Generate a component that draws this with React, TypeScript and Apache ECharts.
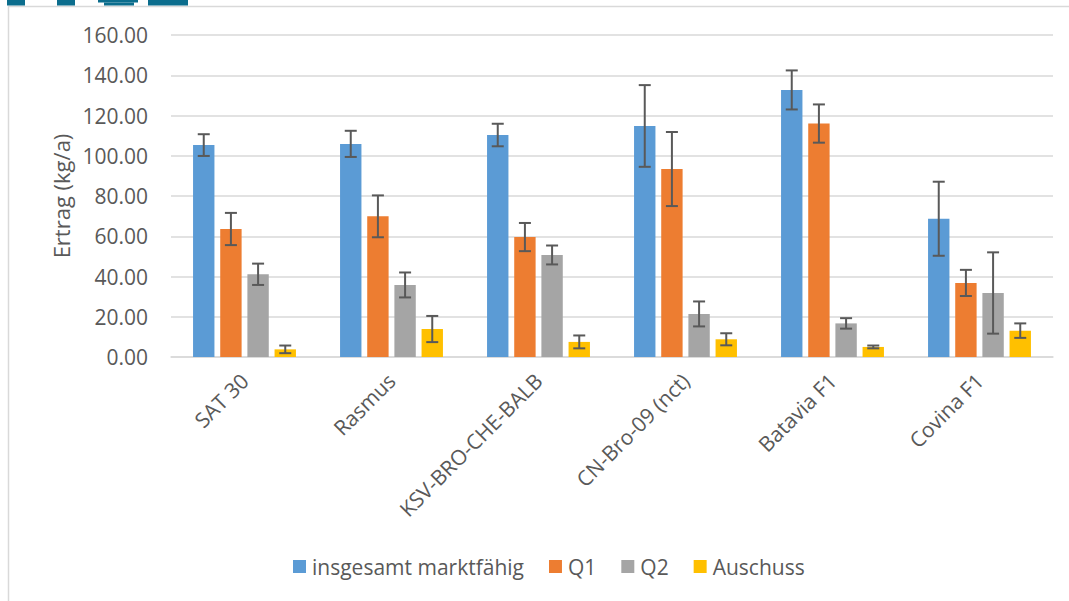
import React, { useEffect, useRef } from "react";
import * as echarts from "echarts";

const categories = ["SAT 30", "Rasmus", "KSV-BRO-CHE-BALB", "CN-Bro-09 (nct)", "Batavia F1", "Covina F1"];
const seriesNames = ["insgesamt marktfähig", "Q1", "Q2", "Auschuss"];
const colors = ["#5B9BD5", "#ED7D31", "#A5A5A5", "#FFC000"];

const totalValues = [105.3, 105.9, 110.3, 114.8, 132.7, 68.7];
const totalErr = [5.4, 6.5, 5.6, 20.3, 9.7, 18.4];
const q1Values = [63.6, 69.9, 59.6, 93.4, 116.0, 36.8];
const q1Err = [8.0, 10.4, 7.0, 18.4, 9.5, 6.5];
const q2Values = [41.1, 35.8, 50.7, 21.4, 16.7, 31.8];
const q2Err = [5.3, 6.2, 4.7, 6.2, 2.6, 20.2];
const auschussValues = [3.8, 13.9, 7.5, 8.8, 5.0, 13.1];
const auschussErr = [1.9, 6.5, 3.2, 3.0, 0.7, 3.6];

const yTicks = { min: 0, max: 160, interval: 20 };

const FONT = "'Open Sans', sans-serif";
const TEXT = "#595959";
const GRID = "#D9D9D9";

const BAR_CAT_GAP = 0.3;
const BAR_GAP = 0.27;

export default function App() {
  const ref = useRef<HTMLDivElement>(null);

  useEffect(() => {
    if (!ref.current) return;
    const chart = echarts.init(ref.current, undefined, { renderer: "svg" });

    const valueSets = [totalValues, q1Values, q2Values, auschussValues];
    const errSets = [totalErr, q1Err, q2Err, auschussErr];

    const barSeries = seriesNames.map((name, si) => ({
      type: "bar",
      name,
      data: valueSets[si],
      itemStyle: { color: colors[si] },
      barCategoryGap: `${BAR_CAT_GAP * 100}%`,
      barGap: `${BAR_GAP * 100}%`,
      silent: true,
    }));

    const errSeries = seriesNames.map((name, si) => ({
      type: "custom",
      name: name + "-err",
      z: 10,
      silent: true,
      data: categories.map((_, i) => [i, valueSets[si][i] - errSets[si][i], valueSets[si][i] + errSets[si][i]]),
      renderItem: (params: any, api: any) => {
        const idx = api.value(0);
        const lo = api.coord([idx, api.value(1)]);
        const hi = api.coord([idx, api.value(2)]);
        const bw = api.size([1, 0])[0];
        const n = seriesNames.length;
        const w = (bw * (1 - BAR_CAT_GAP)) / (n + (n - 1) * BAR_GAP);
        const gap = w * BAR_GAP;
        const total = n * w + (n - 1) * gap;
        const cx = lo[0] - total / 2 + w / 2 + si * (w + gap);
        const cap = 6;
        const style = { stroke: "#595959", lineWidth: 2 };
        return {
          type: "group",
          children: [
            { type: "line", shape: { x1: cx, y1: hi[1], x2: cx, y2: lo[1] }, style },
            { type: "line", shape: { x1: cx - cap, y1: hi[1], x2: cx + cap, y2: hi[1] }, style },
            { type: "line", shape: { x1: cx - cap, y1: lo[1], x2: cx + cap, y2: lo[1] }, style },
          ],
        };
      },
    }));

    chart.setOption({
      animation: false,
      backgroundColor: "#FFFFFF",
      textStyle: { fontFamily: FONT },
      grid: { left: 171, right: 16, top: 35, bottom: 244, containLabel: false },
      legend: {
        data: seriesNames,
        top: 551,
        left: 288,
        itemWidth: 13,
        itemHeight: 13,
        itemGap: 25,
        icon: "rect",
        textStyle: { fontFamily: FONT, fontSize: 21, color: TEXT, padding: [0, 0, 0, 1] },
      },
      xAxis: {
        type: "category",
        data: categories,
        axisLine: { lineStyle: { color: GRID, width: 1.5 } },
        axisTick: { show: false },
        axisLabel: {
          rotate: 45,
          fontFamily: FONT,
          fontSize: 21,
          color: TEXT,
          margin: 20,
          interval: 0,
        },
      },
      yAxis: {
        type: "value",
        min: yTicks.min,
        max: yTicks.max,
        interval: yTicks.interval,
        name: "Ertrag (kg/a)",
        nameLocation: "middle",
        nameGap: 99,
        nameTextStyle: { fontFamily: FONT, fontSize: 22, color: TEXT },
        axisLine: { show: false },
        axisTick: { show: false },
        axisLabel: {
          fontFamily: FONT,
          fontSize: 21,
          color: TEXT,
          margin: 23,
          formatter: (v: number) => v.toFixed(2),
        },
        splitLine: { lineStyle: { color: GRID, width: 1.5 } },
      },
      graphic: [
        { type: "line", shape: { x1: 8.5, y1: 6, x2: 8.5, y2: 601 }, style: { stroke: GRID, lineWidth: 1.5 } },
        { type: "line", shape: { x1: 8, y1: 6.5, x2: 1069, y2: 6.5 }, style: { stroke: GRID, lineWidth: 1.5 } },
        { type: "rect", shape: { x: 7, y: 0, width: 18, height: 5.5 }, style: { fill: "#0B6D8D" } },
        { type: "rect", shape: { x: 57, y: 0, width: 18, height: 5.5 }, style: { fill: "#0B6D8D" } },
        { type: "rect", shape: { x: 98, y: 0, width: 40, height: 2.5 }, style: { fill: "#0B6D8D" } },
        { type: "rect", shape: { x: 104, y: 2.5, width: 30, height: 3 }, style: { fill: "#0B6D8D" } },
        { type: "rect", shape: { x: 148, y: 0, width: 40, height: 5.5 }, style: { fill: "#0B6D8D" } },
      ],
      series: [...barSeries, ...errSeries],
    });

    return () => chart.dispose();
  }, []);

  return (
    <div
      ref={ref}
      style={{ position: "fixed", left: 0, top: 0, width: 1069, height: 601, background: "#fff" }}
    />
  );
}
